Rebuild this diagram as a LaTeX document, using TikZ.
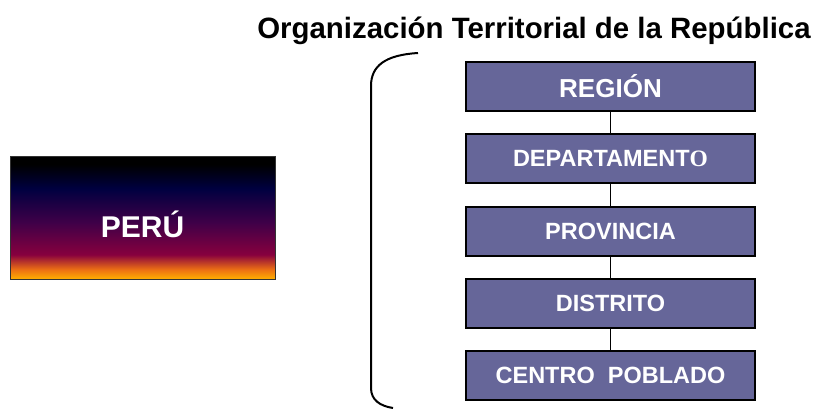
\documentclass[tikz,border=0pt]{standalone}
\usepackage{fontspec}
\setmainfont{Liberation Sans}
\newfontfamily\serifO{Liberation Serif}
\definecolor{boxfill}{RGB}{102,102,153}
\definecolor{sunnavy}{RGB}{0,0,64}
\definecolor{sunpurple}{RGB}{64,0,72}
\definecolor{suncrimson}{RGB}{135,0,62}
\definecolor{sunorange}{RGB}{235,110,20}
\definecolor{sunyellow}{RGB}{255,175,0}
\pgfdeclareverticalshading{sunset}{100bp}{%
  color(0bp)=(sunyellow);
  color(25bp)=(sunyellow);
  color(29bp)=(sunorange);
  color(35bp)=(suncrimson);
  color(48bp)=(sunpurple);
  color(62bp)=(sunnavy);
  color(72bp)=(black);
  color(75bp)=(black);
  color(100bp)=(black)}
\tikzset{
  lvl/.style={draw=black, line width=2pt, fill=boxfill, minimum width=289pt, minimum height=49pt,
    inner sep=0pt, text=white, font=\fontsize{23.5}{26}\selectfont\bfseries},
  link/.style={draw=black, line width=1.5pt},
  peru/.style={draw=black!80, line width=1pt, shading=sunset, minimum width=265pt, minimum height=122pt,
    inner sep=0pt, text=white, font=\fontsize{30}{33}\selectfont\bfseries},
  titlefont/.style={font=\fontsize{29.4}{32}\selectfont\bfseries}
}
\begin{document}
\begin{tikzpicture}[x=1pt,y=-1pt]
\useasboundingbox (0,0) rectangle (814,409);
\node[titlefont, anchor=center] (title) at (534,31) {Organización Territorial de la República};
\node[peru] (peru) at (142.5,218) {\smash{\raisebox{-20pt}{PERÚ}}};
\node[lvl, font=\fontsize{26}{28}\selectfont\bfseries] (region) at (610.5,86.5) {REGIÓN};
\node[lvl] (depto) at (610.5,158.5) {DEPARTAMENT{\serifO\bfseries O}};
\node[lvl] (prov) at (610.5,231) {PROVINCIA};
\node[lvl] (dist) at (610.5,303) {DISTRITO};
\node[lvl] (cp) at (610.5,375) {CENTRO\ \ POBLADO};
\draw[link] (region.south) -- (depto.north);
\draw[link] (depto.south) -- (prov.north);
\draw[link] (prov.south) -- (dist.north);
\draw[link] (dist.south) -- (cp.north);
\coordinate (btop) at (418,53);
\coordinate (bbot) at (393,408);
\draw[line width=2pt] (btop) .. controls (385,55) and (371,66) .. (371,86)
  -- (371,388) .. controls (371,400) and (380,406) .. (bbot);
\end{tikzpicture}
\end{document}
